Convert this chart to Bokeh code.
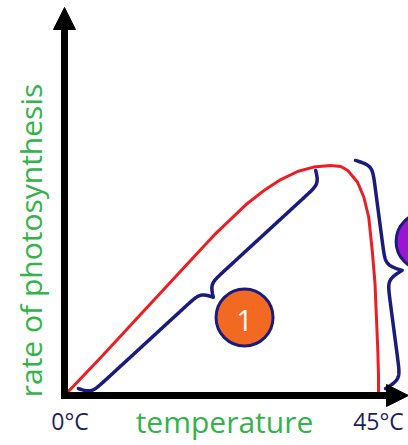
import numpy as np
from bokeh.plotting import figure
from bokeh.models import Arrow, NormalHead, Range1d
from bokeh.core.properties import value
from bokeh.embed import file_html
from bokeh.resources import INLINE

# ---------------- data ----------------
temperature_c = [0, 5.2, 10.9, 16.6, 21.4, 26.2, 28.8, 31.0, 33.4, 35.7, 38.1,
                 39.6, 40.6, 42.0, 42.9, 43.6, 44.1, 44.5, 44.7, 44.9, 45.0, 45.0]
photosynthesis_rate = [0, 16.5, 35.2, 53.9, 69.6, 83.5, 89.6, 93.9, 97.4, 99.3, 100,
                       99.6, 97.8, 92.7, 86.2, 77.5, 63.0, 48.7, 34.0, 19.6, 8.7, 0]
tick_values = [0, 45]
tick_labels = ["0°C", "45°C"]
x_title = "temperature"
y_title = "rate of photosynthesis"
marker_labels = ["1", ""]
# marker centres (temperature, rate)
marker_temp = [25.8, 51.6]
marker_rate = [33.9, 67.0]
# braces: start/end (temperature, rate)
brace_start_temp = [2.0, 41.7]
brace_start_rate = [3.0, 102.2]
brace_end_temp = [36.0, 46.0]
brace_end_rate = [97.8, 3.0]

# ---------------- layout ----------------
W, H = 408, 445
OX, OY = 64.0, 395.0      # canvas pixel of origin
KX, KY = 6.978, 2.3       # px per degree, px per rate unit


def to_px(x, y):
    return OX + x * KX, OY - y * KY


def to_data(cx, cy):
    return (cx - OX) / KX, (OY - cy) / KY


RED = "#EE1D23"
NAVY = "#1B1B7E"
TICK_NAVY = "#1E1E5C"
GREEN = "#33B34A"
ORANGE = "#F26A21"
PURPLE = "#9A16D2"
FONT = value("Open Sans")

x0, _ = to_data(0, 0)
x1, _ = to_data(W, 0)
_, y1 = to_data(0, 0)
_, y0 = to_data(0, H)

p = figure(width=W, height=H, x_range=Range1d(x0, x1), y_range=Range1d(y0, y1),
           output_backend="svg", toolbar_location=None, min_border=0,
           x_axis_type=None, y_axis_type=None)
p.grid.visible = False
p.outline_line_color = None
p.background_fill_color = "white"
p.border_fill_color = "white"


def brace(ps, pe, width_px, toward, beta, n=160):
    a = np.array(to_px(*ps))
    b = np.array(to_px(*pe))
    d = b - a
    L = float(np.hypot(*d))
    u = d / L
    nv = np.array([-u[1], u[0]])
    c = np.array(to_px(*toward))
    if np.dot(c - (a + b) / 2, nv) < 0:
        nv = -nv
    t = np.linspace(0, L / 2, n)
    h = 1 / (1 + np.exp(-beta * t)) + 1 / (1 + np.exp(-beta * (t - L / 2))) - 0.5
    s = np.concatenate([t, L - t[::-1][1:]])
    hh = np.concatenate([h, h[::-1][1:]])
    pts = a[None, :] + s[:, None] * u[None, :] + (hh * width_px)[:, None] * nv[None, :]
    return (pts[:, 0] - OX) / KX, (OY - pts[:, 1]) / KY


# red curve
p.line(temperature_c, photosynthesis_rate, line_color=RED, line_width=3,
       line_join="round", line_cap="round")

# braces
brace_widths = [24, 32]
brace_betas = [0.3, 0.28]
for i in range(2):
    bx, by = brace((brace_start_temp[i], brace_start_rate[i]),
                   (brace_end_temp[i], brace_end_rate[i]),
                   brace_widths[i], (marker_temp[i], marker_rate[i]), brace_betas[i])
    p.line(bx, by, line_color=NAVY, line_width=3.5, line_cap="round", line_join="round")

# circles
p.scatter(marker_temp, marker_rate, size=57, marker="circle",
          fill_color=[ORANGE, PURPLE], line_color=NAVY, line_width=3)
p.text(marker_temp, marker_rate, text=marker_labels, text_color="white",
       text_font=FONT, text_font_size=value("29px"), text_align="center",
       text_baseline="middle", y_offset=3)

# axes arrows
ax_start = to_data(OX - 3.5, OY)
ax_end = to_data(W, OY)
ay_start = to_data(OX, OY + 3.5)
ay_end = to_data(OX, 7)
for (sx, sy), (ex, ey) in [(ax_start, ax_end), (ay_start, ay_end)]:
    p.add_layout(Arrow(end=NormalHead(size=22, fill_color="black", line_color="black", line_width=1),
                       x_start=sx, y_start=sy, x_end=ex, y_end=ey,
                       line_color="black", line_width=7))

# tick labels
tick_offsets = [5.5, 0]
_, tick_base = to_data(0, 420)
p.text([t + o / KX for t, o in zip(tick_values, tick_offsets)], [tick_base] * 2,
       text=tick_labels, text_color=TICK_NAVY, text_font=FONT,
       text_font_size=value("23px"), text_align="center", text_baseline="alphabetic")

# axis titles
tx, ty = to_data(224, 421)
p.text([tx], [ty], text=[x_title], text_color=GREEN, text_font=FONT,
       text_font_size=value("30px"), text_align="center", text_baseline="alphabetic")
yx, yy = to_data(30, 240)
p.text([yx], [yy], text=[y_title], text_color=GREEN, text_font=FONT,
       text_font_size=value("30px"), text_align="center", text_baseline="alphabetic",
       angle=np.pi / 2)

open("out.html", "w").write(file_html(p, INLINE))
